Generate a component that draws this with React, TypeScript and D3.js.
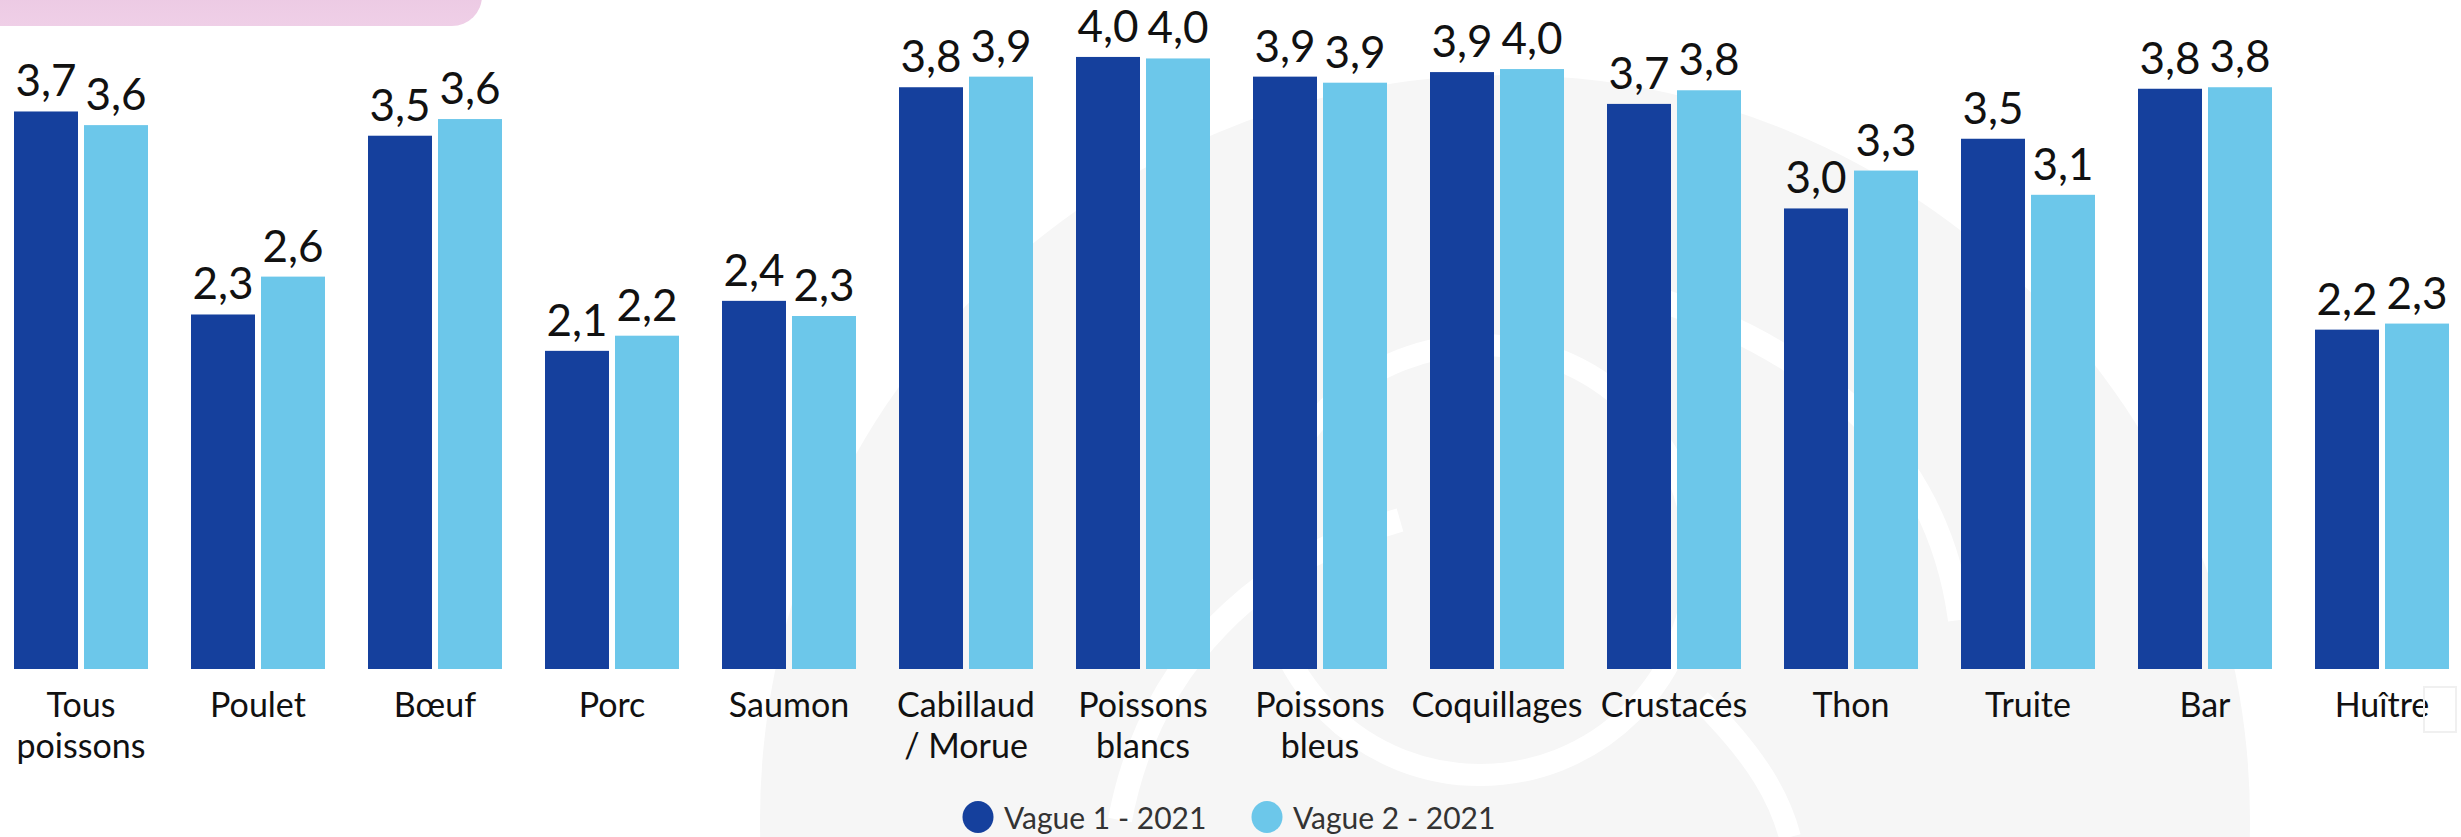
import { useMemo } from "react";
import * as d3 from "d3";

const WIDTH = 2461;
const HEIGHT = 837;

const categories = [
  "Tous poissons",
  "Poulet",
  "Bœuf",
  "Porc",
  "Saumon",
  "Cabillaud / Morue",
  "Poissons blancs",
  "Poissons bleus",
  "Coquillages",
  "Crustacés",
  "Thon",
  "Truite",
  "Bar",
  "Huître",
];

// label lines as printed under the bars
const categoryLines = [
  ["Tous", "poissons"],
  ["Poulet"],
  ["Bœuf"],
  ["Porc"],
  ["Saumon"],
  ["Cabillaud", "/ Morue"],
  ["Poissons", "blancs"],
  ["Poissons", "bleus"],
  ["Coquillages"],
  ["Crustacés"],
  ["Thon"],
  ["Truite"],
  ["Bar"],
  ["Huître"],
];

const vague1 = [3.68, 2.34, 3.52, 2.1, 2.43, 3.84, 4.04, 3.91, 3.94, 3.73, 3.04, 3.5, 3.83, 2.24];
const vague2 = [3.59, 2.59, 3.63, 2.2, 2.33, 3.91, 4.03, 3.87, 3.96, 3.82, 3.29, 3.13, 3.84, 2.28];

const seriesKeys = ["v1", "v2"];
const seriesNames = ["Vague 1 - 2021", "Vague 2 - 2021"];
const seriesColors = ["#15409d", "#6cc7ea"];

const FONT = "Lato, 'Open Sans', sans-serif";

const App = () => {
  const baseline = 669;

  const xScale = useMemo(
    () =>
      d3
        .scaleBand()
        .domain(categories)
        .range([-7.5, -7.5 + categories.length * 177])
        .paddingInner(0.243)
        .paddingOuter(0.1215),
    []
  );

  const xInner = useMemo(
    () =>
      d3
        .scaleBand()
        .domain(seriesKeys)
        .range([0, xScale.bandwidth()])
        .paddingInner(0.0857),
    [xScale]
  );

  const yScale = useMemo(
    () => d3.scaleLinear().domain([0, 4]).range([baseline, baseline - 606]),
    []
  );

  const fmt = (v: number) => d3.format(".1f")(v).replace(".", ",");

  const bars = categories.map((cat, i) => {
    const x0 = xScale(cat) ?? 0;
    const cx = x0 + xScale.bandwidth() / 2;
    const vals = [vague1[i], vague2[i]];
    return (
      <g key={cat}>
        {seriesKeys.map((k, j) => {
          const x = x0 + (xInner(k) ?? 0);
          const y = yScale(vals[j]);
          return (
            <g key={k}>
              <rect
                x={x}
                y={y}
                width={xInner.bandwidth()}
                height={baseline - y}
                fill={seriesColors[j]}
              />
              <text
                x={x + xInner.bandwidth() / 2}
                y={y - 15}
                textAnchor="middle"
                fontSize={44}
                fill="#111"
              >
                {fmt(vals[j])}
              </text>
            </g>
          );
        })}
        {categoryLines[i].map((line, li) => (
          <text
            key={li}
            x={cx}
            y={717 + li * 41}
            textAnchor="middle"
            fontSize={34}
            fill="#111"
          >
            {line}
          </text>
        ))}
      </g>
    );
  });

  const legendX = [978, 1267];

  return (
    <svg
      width={WIDTH}
      height={HEIGHT}
      style={{ position: "absolute", left: 0, top: 0, fontFamily: FONT }}
    >
      <defs>
        <linearGradient id="pink" x1="0" y1="0" x2="0" y2="1">
          <stop offset="0%" stopColor="#e6bfdc" />
          <stop offset="100%" stopColor="#efcfe7" />
        </linearGradient>
      </defs>
      <rect width={WIDTH} height={HEIGHT} fill="#ffffff" />

      {/* faint watermark behind the bars */}
      <g>
        <circle cx={1505} cy={820} r={745} fill="#f6f6f6" />
        <circle cx={1480} cy={560} r={215} fill="none" stroke="#ffffff" strokeWidth={22} />
        <path d="M1120,820 C1150,660 1260,560 1400,520" fill="none" stroke="#ffffff" strokeWidth={24} />
        <path d="M1660,300 C1840,360 1940,470 1960,620" fill="none" stroke="#ffffff" strokeWidth={24} />
        <path d="M1700,700 C1760,760 1780,800 1790,837" fill="none" stroke="#ffffff" strokeWidth={22} />
      </g>

      <rect x={-40} y={-70} width={522} height={96} rx={30} fill="url(#pink)" />

      {bars}

      <rect x={2424} y={687} width={32} height={45} fill="none" stroke="#f0f0f0" strokeWidth={2} />

      {seriesNames.map((name, j) => (
        <g key={name}>
          <ellipse cx={legendX[j]} cy={817} rx={15.5} ry={16} fill={seriesColors[j]} />
          <text x={legendX[j] + 26} y={829} fontSize={30} fill="#333">
            {name}
          </text>
        </g>
      ))}
    </svg>
  );
};

export default App;
